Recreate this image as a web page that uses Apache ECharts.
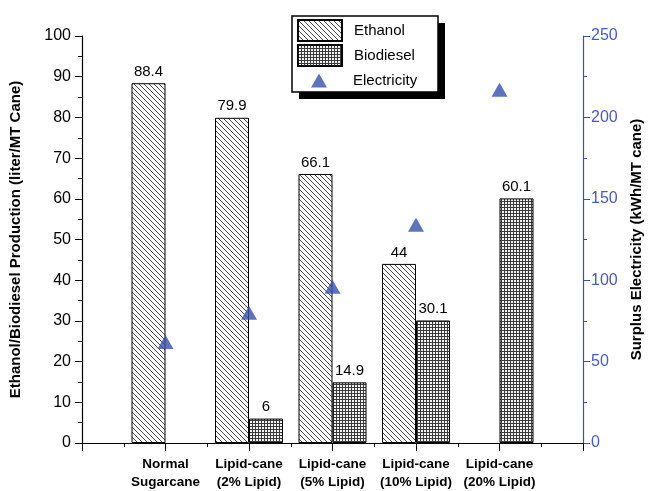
<!DOCTYPE html>
<html><head><meta charset="utf-8">
<script src="https://cdn.jsdelivr.net/npm/echarts@6/dist/echarts.min.js"></script>
<style>html,body{margin:0;padding:0;background:#fff}#c{width:652px;height:491px}</style>
</head><body><div id="c"></div>
<script>
const categories = ['', 'Normal\nSugarcane', 'Lipid-cane\n(2% Lipid)', 'Lipid-cane\n(5% Lipid)', 'Lipid-cane\n(10% Lipid)', 'Lipid-cane\n(20% Lipid)', ''];
const ethanolPos = [1, 2, 3, 4];
const ethanolVals = [88.4, 79.9, 66.1, 44];
const biodieselPos = [2, 3, 4, 5];
const biodieselVals = [6, 14.9, 30.1, 60.1];
const electricityPos = [1, 2, 3, 4, 5];
const electricityVals = [62, 80, 96, 134, 217];

function hatch() {
  const c = document.createElement('canvas'); c.width = 5; c.height = 5;
  const g = c.getContext('2d'); g.fillStyle = '#fff'; g.fillRect(0,0,5,5);
  g.strokeStyle = '#333'; g.lineWidth = 0.9;
  for (const k of [-5, 0, 5]) { g.beginPath(); g.moveTo(0, k); g.lineTo(5, 5 + k); g.stroke(); }
  return c;
}
function cross() {
  const c = document.createElement('canvas'); c.width = 3; c.height = 3;
  const g = c.getContext('2d'); g.fillStyle = '#3a3a3a'; g.fillRect(0,0,3,3);
  g.fillStyle = '#f4f4f4'; g.fillRect(1,1,2,2);
  return c;
}
const blue = '#3550aa';
const font = 'Liberation Sans, Arial, sans-serif';
const chart = echarts.init(document.getElementById('c'));
chart.setOption({
  animation: false,
  textStyle: { fontFamily: font },
  grid: { left: 80, right: 68, top: 36, bottom: 47 },
  graphic: [
    { type: 'rect', z: 3, shape: { x: 299, y: 23, width: 146, height: 76 }, style: { fill: '#000' } },
    { type: 'rect', z: 3, shape: { x: 292, y: 16, width: 146, height: 76 }, style: { fill: '#fff', stroke: '#000', lineWidth: 1.5 } }
  ],
  legend: [
    { data: [{ name: 'Ethanol', icon: 'rect' }, { name: 'Biodiesel', icon: 'rect' }], orient: 'vertical', left: 297, top: 19, itemWidth: 44, itemHeight: 21, itemGap: 2, padding: 0,
      textStyle: { fontSize: 15, color: '#000', padding: [0, 0, 0, 7] }, z: 5 },
    { data: [{ name: 'Electricity', icon: 'triangle' }], orient: 'vertical', left: 311, top: 73, itemWidth: 16, itemHeight: 14, padding: 0,
      textStyle: { fontSize: 15, color: '#000', padding: [0, 0, 0, 21] }, z: 5 }
  ],
  xAxis: {
    type: 'value', min: 0, max: 6, interval: 1,
    axisLine: { lineStyle: { color: '#000', width: 1.2 } },
    axisTick: { show: true, length: 8, lineStyle: { color: '#000' } },
    minorTick: { show: true, splitNumber: 2, length: 4, lineStyle: { color: '#000' } },
    splitLine: { show: false },
    axisLabel: { formatter: v => categories[v] || '', fontWeight: 'bold', fontSize: 13.5, color: '#000', lineHeight: 18, margin: 12 }
  },
  yAxis: [
    { type: 'value', min: 0, max: 100, interval: 10,
      name: 'Ethanol/Biodiesel Production (liter/MT Cane)', nameLocation: 'middle', nameGap: 59,
      nameTextStyle: { fontWeight: 'bold', fontSize: 15, color: '#000' },
      axisLine: { show: true, lineStyle: { color: '#000', width: 1.2 } },
      axisTick: { show: true, length: 7, lineStyle: { color: '#000' } },
      minorTick: { show: true, splitNumber: 2, length: 4, lineStyle: { color: '#000' } },
      splitLine: { show: false },
      axisLabel: { fontSize: 16, color: '#000', margin: 11 } },
    { type: 'value', min: 0, max: 250, interval: 50, position: 'right',
      name: 'Surplus Electricity (kWh/MT cane)', nameLocation: 'middle', nameGap: 46, nameRotate: 90,
      nameTextStyle: { fontWeight: 'bold', fontSize: 15, color: '#000' },
      axisLine: { show: true, lineStyle: { color: '#3d50ad', width: 1.2 } },
      axisTick: { show: true, length: 7, lineStyle: { color: '#3d50ad' } },
      minorTick: { show: true, splitNumber: 2, length: 4, lineStyle: { color: '#3d50ad' } },
      splitLine: { show: false },
      axisLabel: { fontSize: 16, color: '#4a5cb8', margin: 8 } }
  ],
  series: [
    { name: 'Ethanol', type: 'bar', barWidth: 34, barGap: '0%',
      data: ethanolPos.map((x, i) => [x, ethanolVals[i]]),
      itemStyle: { color: { image: hatch(), repeat: 'repeat' }, borderColor: '#000', borderWidth: 1 },
      label: { show: true, position: 'top', fontSize: 15, color: '#000', distance: 4, formatter: p => p.value[1] } },
    { name: 'Biodiesel', type: 'bar', barWidth: 34, barGap: '0%',
      data: biodieselPos.map((x, i) => [x, biodieselVals[i]]),
      itemStyle: { color: { image: cross(), repeat: 'repeat' }, borderColor: '#000', borderWidth: 1 },
      label: { show: true, position: 'top', fontSize: 15, color: '#000', distance: 4, formatter: p => p.value[1] } },
    { name: 'Electricity', type: 'scatter', yAxisIndex: 1, symbol: 'triangle', symbolSize: [16, 14],
      data: electricityPos.map((x, i) => [x, electricityVals[i]]),
      itemStyle: { color: blue } }
  ]
});
</script></body></html>
